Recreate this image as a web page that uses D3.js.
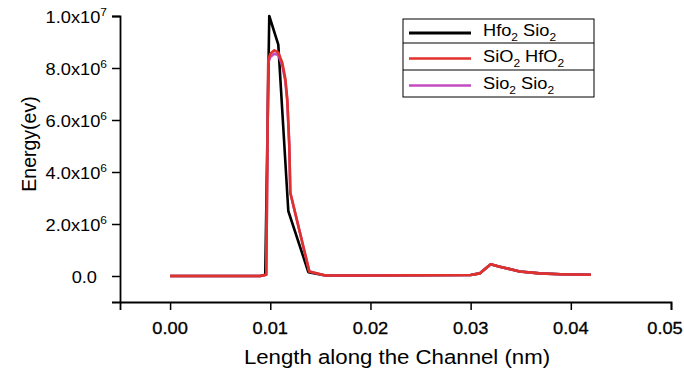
<!DOCTYPE html>
<html>
<head>
<meta charset="utf-8">
<script src="https://cdn.jsdelivr.net/npm/d3@7"></script>
<style>
  body { margin: 0; background: #fff; }
  text { font-family: "Liberation Sans", Arial, sans-serif; }
</style>
</head>
<body>
<svg id="chart"></svg>
<script>
// data (energy in units of 1e6 eV)
var tailX = [0.0155, 0.020, 0.025, 0.030, 0.0309, 0.0320, 0.0329, 0.0349, 0.0369, 0.039, 0.042]
var tailY = [0.02, 0.02, 0.03, 0.04, 0.10, 0.45, 0.36, 0.17, 0.10, 0.07, 0.05]

var hfoX = [0, 0.005, 0.009, 0.0095, 0.0099, 0.0108, 0.0118, 0.0138].concat(tailX)
var hfoY = [0, 0, 0, 0.05, 10.0, 8.9, 2.5, 0.15].concat(tailY)

var sioHfoX = [0, 0.005, 0.009, 0.0096, 0.0098, 0.0100, 0.0104, 0.0108, 0.0112, 0.0115, 0.0117, 0.0119, 0.0120, 0.0139].concat(tailX)
var sioHfoY = [0, 0, 0, 0.05, 8.3, 8.55, 8.68, 8.6, 8.2, 7.6, 6.8, 5.0, 3.2, 0.17].concat(tailY)

var sioSioX = [0, 0.005, 0.009, 0.0096, 0.0098, 0.0100, 0.0104, 0.0108, 0.0112, 0.0115, 0.0117, 0.0119, 0.0120, 0.0139].concat(tailX)
var sioSioY = [0, 0, 0, 0.05, 8.2, 8.42, 8.55, 8.5, 8.1, 7.5, 6.7, 5.0, 3.2, 0.17].concat(tailY)

var xTicks = [0, 0.01, 0.02, 0.03, 0.04, 0.05]
var yTicks = [0, 2, 4, 6, 8, 10]
var yTickLabels = [["0.0", ""], ["2.0x10", "6"], ["4.0x10", "6"], ["6.0x10", "6"], ["8.0x10", "6"], ["1.0x10", "7"]]

var series = [
    {name: ["Hfo", "2", " Sio", "2"], xs: hfoX, ys: hfoY, color: "#000000", order: 0},
    {name: ["SiO", "2", " HfO", "2"], xs: sioHfoX, ys: sioHfoY, color: "#e0312b", order: 2},
    {name: ["Sio", "2", " Sio", "2"], xs: sioSioX, ys: sioSioY, color: "#c24bc0", order: 1}
]

var dimensions = {
    width: 684,
    height: 371,
    margin: {top: 16, bottom: 69, left: 120, right: 13}
}
var stretch = 1.14  // text in the picture is a bit wide

var svg = d3.select("#chart")
    .attr("width", dimensions.width)
    .attr("height", dimensions.height)

var xScale = d3.scaleLinear()
    .domain([-0.005, 0.05])
    .range([dimensions.margin.left, dimensions.width - dimensions.margin.right])

var yScale = d3.scaleLinear()
    .domain([-1, 10])
    .range([dimensions.height - dimensions.margin.bottom, dimensions.margin.top])

var y0 = yScale(-1)
var x0 = xScale(-0.005)

// x axis with minor ticks
var xAxis = svg.append("g").attr("transform", `translate(0,${y0})`)
xAxis.call(d3.axisBottom(xScale).tickValues(d3.range(-0.005, 0.0501, 0.005)).tickSize(4).tickFormat(""))
xAxis.call(d3.axisBottom(xScale).tickValues(xTicks).tickSize(8).tickFormat(""))
xAxis.selectAll("path.domain").attr("stroke-width", 1.8)
xAxis.selectAll("line").attr("stroke-width", 1.5)

xTicks.forEach(function(v){
    // keep the last label inside the page, like the original
    var cx = Math.min(xScale(v), dimensions.width - 19)
    svg.append("text")
        .attr("transform", `translate(${cx},334) scale(${stretch},1)`)
        .attr("text-anchor", "middle")
        .attr("font-size", 16)
        .attr("stroke", "#000").attr("stroke-width", 0.3)
        .text(d3.format(".2f")(v))
})

// y axis with minor ticks
var yAxis = svg.append("g").attr("transform", `translate(${x0},0)`)
yAxis.call(d3.axisLeft(yScale).tickValues(d3.range(-1, 10.01, 1)).tickSize(4).tickFormat(""))
yAxis.call(d3.axisLeft(yScale).tickValues(yTicks).tickSize(8).tickFormat(""))
yAxis.selectAll("path.domain").attr("stroke-width", 1.8)
yAxis.selectAll("line").attr("stroke-width", 1.5)

yTicks.forEach(function(v, i){
    var right = yTickLabels[i][1] ? x0 - 13 : x0 - 23
    var t = svg.append("text")
        .attr("transform", `translate(${right},${yScale(v) + 6.5}) scale(${stretch},1)`)
        .attr("text-anchor", "end")
        .attr("font-size", 16)
    t.append("tspan").text(yTickLabels[i][0])
    if (yTickLabels[i][1]) {
        t.append("tspan").attr("font-size", 10.5).attr("dy", -7).text(yTickLabels[i][1])
    }
})

// axis titles
svg.append("text")
    .attr("transform", `translate(397,364) scale(${stretch},1)`)
    .attr("text-anchor", "middle")
    .attr("font-size", 19.5)
    .text("Length along the Channel (nm)")

svg.append("text")
    .attr("transform", `translate(36,144) rotate(-90)`)
    .attr("text-anchor", "middle")
    .attr("font-size", 19.5)
    .text("Energy(ev)")

// lines
var line = d3.line()
    .x(d => xScale(d[0]))
    .y(d => yScale(d[1]))

series.slice().sort((a, b) => a.order - b.order).forEach(function(s){
    svg.append("path")
        .datum(s.xs.map((x, i) => [x, s.ys[i]]))
        .attr("fill", "none")
        .attr("stroke", s.color)
        .attr("stroke-width", 2.6)
        .attr("stroke-linejoin", "round")
        .attr("d", line)
})

// legend
var legend = svg.append("g").attr("transform", "translate(403,19)")
var rowH = [24, 27, 27]
legend.append("rect").attr("width", 191).attr("height", 78)
    .attr("fill", "#fff").attr("stroke", "#000").attr("stroke-width", 1)
var yy = 0
series.forEach(function(s, i){
    if (i > 0) {
        legend.append("line").attr("x1", 0).attr("x2", 191).attr("y1", yy).attr("y2", yy)
            .attr("stroke", "#000").attr("stroke-width", 1)
    }
    var cy = yy + rowH[i] / 2 + 2
    legend.append("line").attr("x1", 6).attr("x2", 68).attr("y1", cy).attr("y2", cy)
        .attr("stroke", s.color).attr("stroke-width", i == 0 ? 3 : 2.4)
    var t = legend.append("text")
        .attr("transform", `translate(80,${cy + 3}) scale(${stretch},1)`)
        .attr("font-size", 16)
    t.append("tspan").text(s.name[0])
    t.append("tspan").attr("font-size", 10.5).attr("dy", 5).text(s.name[1])
    t.append("tspan").attr("dy", -5).text(s.name[2])
    t.append("tspan").attr("font-size", 10.5).attr("dy", 5).text(s.name[3])
    yy += rowH[i]
})
</script>
</body>
</html>
